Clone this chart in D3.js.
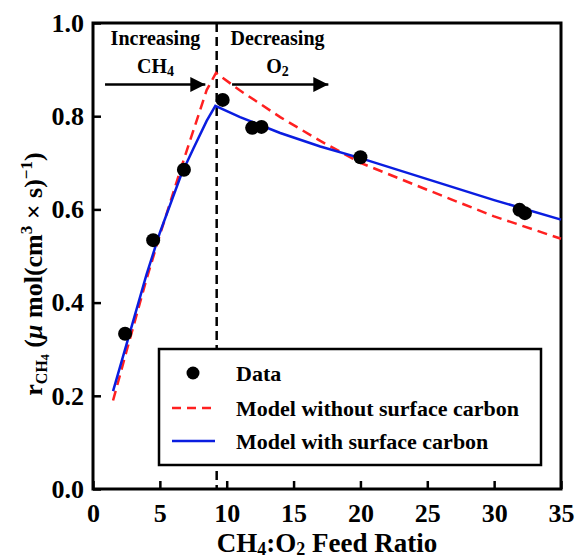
<!DOCTYPE html>
<html><head><meta charset="utf-8">
<script src="https://cdn.jsdelivr.net/npm/d3@7"></script>
<style>body{margin:0;background:#fff}svg text{font-family:"Liberation Serif","Times New Roman",serif;font-weight:bold}</style>
</head><body>
<script>
const dataX = [2.4, 4.5, 6.8, 9.7, 11.9, 12.6, 20.0, 31.9, 32.3];
const dataY = [0.333, 0.534, 0.685, 0.835, 0.775, 0.777, 0.712, 0.599, 0.592];
const redX = [1.5, 2.5, 4.0, 5.0, 6.6, 8.5, 9.2, 11, 14, 17, 20, 25, 30, 35];
const redY = [0.19, 0.295, 0.45, 0.545, 0.69, 0.856, 0.893, 0.855, 0.798, 0.747, 0.70, 0.642, 0.585, 0.537];
const blueX = [1.5, 2.5, 4.0, 5.0, 6.6, 7.5, 8.5, 9.15, 11, 14, 17, 20, 25, 30, 35];
const blueY = [0.21, 0.31, 0.46, 0.55, 0.675, 0.73, 0.79, 0.822, 0.798, 0.764, 0.735, 0.71, 0.665, 0.62, 0.578];
const xTicks = [0, 5, 10, 15, 20, 25, 30, 35];
const yTicks = [0.0, 0.2, 0.4, 0.6, 0.8, 1.0];
const splitX = 9.25;
const legendLabels = ["Data", "Model without surface carbon", "Model with surface carbon"];

const W = 575, H = 558;
const m = {l: 93, r: 14, t: 23, b: 69};
const svg = d3.select("body").append("svg").attr("width", W).attr("height", H);
const x = d3.scaleLinear().domain([0, 35]).range([m.l, W - m.r]);
const y = d3.scaleLinear().domain([0, 1]).range([H - m.b, m.t]);

// frame
svg.append("rect").attr("x", x(0)).attr("y", y(1)).attr("width", x(35) - x(0)).attr("height", y(0) - y(1))
  .attr("fill", "none").attr("stroke", "#000").attr("stroke-width", 3);

// axes
const xa = svg.append("g").attr("transform", `translate(0,${y(0)})`)
  .call(d3.axisBottom(x).tickValues(xTicks).tickSize(-8).tickPadding(15).tickFormat(d3.format("d")));
const ya = svg.append("g").attr("transform", `translate(${x(0)},0)`)
  .call(d3.axisLeft(y).tickValues(yTicks).tickSize(-8).tickPadding(9).tickFormat(d3.format(".1f")));
[xa, ya].forEach(g => {
  g.select(".domain").remove();
  g.selectAll(".tick line").attr("stroke", "#000").attr("stroke-width", 2.5);
  g.selectAll(".tick text").attr("font-size", 26).attr("fill", "#000")
    .style("font-family", '"Liberation Serif",serif').style("font-weight", "bold");
});

// dashed vertical divider
svg.append("line").attr("x1", x(splitX)).attr("x2", x(splitX)).attr("y1", y(1)).attr("y2", y(0))
  .attr("stroke", "#000").attr("stroke-width", 2.5).attr("stroke-dasharray", "9,5");

// model lines
const line = d3.line().x(d => x(d[0])).y(d => y(d[1]));
svg.append("path").datum(redX.map((v, i) => [v, redY[i]])).attr("d", line)
  .attr("fill", "none").attr("stroke", "#ff2020").attr("stroke-width", 2.5).attr("stroke-dasharray", "10,6");
svg.append("path").datum(blueX.map((v, i) => [v, blueY[i]])).attr("d", line)
  .attr("fill", "none").attr("stroke", "#0a1de0").attr("stroke-width", 2.5);

// data points
svg.selectAll("circle.pt").data(dataX.map((v, i) => [v, dataY[i]])).enter().append("circle")
  .attr("class", "pt").attr("cx", d => x(d[0])).attr("cy", d => y(d[1])).attr("r", 7).attr("fill", "#000");

// annotations
const defs = svg.append("defs");
defs.append("marker").attr("id", "ah").attr("viewBox", "0 0 10 10").attr("refX", 10).attr("refY", 5)
  .attr("markerWidth", 11).attr("markerHeight", 6).attr("markerUnits", "strokeWidth").attr("orient", "auto")
  .append("path").attr("d", "M0,0 L10,5 L0,10 Z").attr("fill", "#000");
const ay = y(0.868);
svg.append("line").attr("x1", x(0.9)).attr("x2", x(8.4)).attr("y1", ay).attr("y2", ay)
  .attr("stroke", "#000").attr("stroke-width", 2.5).attr("marker-end", "url(#ah)");
svg.append("line").attr("x1", x(10.4)).attr("x2", x(17.6)).attr("y1", ay).attr("y2", ay)
  .attr("stroke", "#000").attr("stroke-width", 2.5).attr("marker-end", "url(#ah)");
svg.append("text").attr("x", x(4.67)).attr("y", 45).attr("text-anchor", "middle").attr("font-size", 20).text("Increasing");
const t1 = svg.append("text").attr("x", x(4.67)).attr("y", 73).attr("text-anchor", "middle").attr("font-size", 20);
t1.append("tspan").text("CH");
t1.append("tspan").attr("font-size", 14).attr("dy", 3).text("4");
svg.append("text").attr("x", x(13.8)).attr("y", 45).attr("text-anchor", "middle").attr("font-size", 20).text("Decreasing");
const t2 = svg.append("text").attr("x", x(13.8)).attr("y", 73).attr("text-anchor", "middle").attr("font-size", 20);
t2.append("tspan").text("O");
t2.append("tspan").attr("font-size", 14).attr("dy", 3).text("2");

// legend
const lg = svg.append("g").attr("transform", "translate(159,349)");
lg.append("rect").attr("width", 382).attr("height", 116).attr("fill", "#fff").attr("stroke", "#000").attr("stroke-width", 2.5);
const rows = [24, 59, 92];
lg.append("circle").attr("cx", 34).attr("cy", rows[0]).attr("r", 6.5).attr("fill", "#000");
lg.append("line").attr("x1", 13).attr("x2", 56).attr("y1", rows[1]).attr("y2", rows[1])
  .attr("stroke", "#ff2020").attr("stroke-width", 2.5).attr("stroke-dasharray", "9,6");
lg.append("line").attr("x1", 13).attr("x2", 56).attr("y1", rows[2]).attr("y2", rows[2])
  .attr("stroke", "#0a1de0").attr("stroke-width", 2.5);
legendLabels.forEach((t, i) => lg.append("text").attr("x", 77).attr("y", rows[i]).attr("dy", "0.35em")
  .attr("font-size", 22).text(t));

// x title
const xt = svg.append("text").attr("x", x(17.5)).attr("y", 552).attr("text-anchor", "middle").attr("font-size", 27);
xt.append("tspan").text("CH");
xt.append("tspan").attr("font-size", 18).attr("dy", 3).text("4");
xt.append("tspan").attr("dy", -3).text(":O");
xt.append("tspan").attr("font-size", 18).attr("dy", 3).text("2");
xt.append("tspan").attr("dy", -3).text(" Feed Ratio");

// y title
const yt = svg.append("text").attr("transform", `translate(42,274) rotate(-90)`).attr("text-anchor", "middle").attr("font-size", 26);
yt.append("tspan").text("r");
yt.append("tspan").attr("font-size", 16).attr("dy", 5).text("CH");
yt.append("tspan").attr("font-size", 12).attr("dy", 2).text("4");
yt.append("tspan").attr("dy", -7).text(" (");
yt.append("tspan").style("font-style", "italic").text("μ");
yt.append("tspan").text(" mol(cm");
yt.append("tspan").attr("font-size", 17).attr("dy", -10).text("3");
yt.append("tspan").attr("dy", 10).text(" × s)");
yt.append("tspan").attr("font-size", 17).attr("dy", -10).text("−1");
yt.append("tspan").attr("dy", 10).text(")");
</script>
</body></html>
